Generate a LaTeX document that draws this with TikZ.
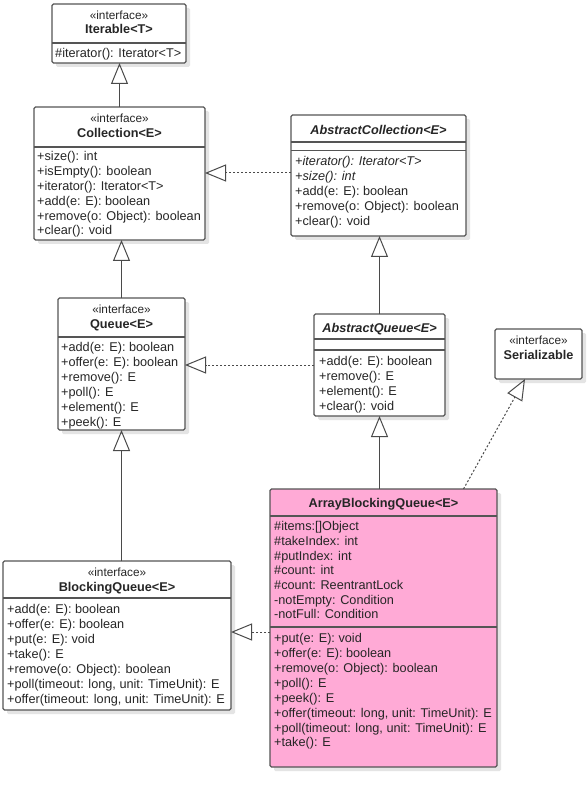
\documentclass[tikz,border=0pt]{standalone}
\usepackage{fontspec}
\setmainfont{Liberation Sans}
\usetikzlibrary{arrows.meta,shadows}
\definecolor{linec}{HTML}{4A4A4A}
\definecolor{boxc}{HTML}{555555}
\definecolor{pinkc}{HTML}{FFAAD6}
\definecolor{txtc}{HTML}{262626}
\definecolor{shadc}{HTML}{E4E4E4}
\begin{document}
\begin{tikzpicture}[x=1pt,y=-1pt,
  cls/.style={draw=boxc, line width=1.1pt, fill=white, rounded corners=1.5pt,
    anchor=north west, inner sep=0pt, outer sep=0pt,
    drop shadow={shadow xshift=4pt, shadow yshift=-4pt, fill=shadc, opacity=1}},
  div/.style={draw=boxc, line width=1.1pt},
  mtxt/.style={anchor=base west, inner sep=0pt, text=txtc, font=\fontsize{12.7}{15}\selectfont},
  itxt/.style={mtxt, font=\fontsize{12.7}{15}\selectfont\itshape},
  stereo/.style={anchor=base, inner sep=0pt, text=txtc, font=\fontsize{11.8}{14}\selectfont},
  cname/.style={anchor=base, inner sep=0pt, text=txtc, font=\fontsize{12.7}{15}\selectfont\bfseries},
  aname/.style={cname, font=\fontsize{12.7}{15}\selectfont\bfseries\itshape},
  inh/.style={draw=linec, line width=1pt, -{Triangle[open, length=21pt, width=17pt]}},
  real/.style={inh, dash pattern=on 2pt off 2pt}
]
\useasboundingbox (0,0) rectangle (586,791);
\fill[white] (0,0) rectangle (586,791);

% ---------- Iterable ----------
\node[cls, minimum width=134pt, minimum height=59pt] (iter) at (52,4) {};
\draw[div] (52,43) -- (186,43);
\node[stereo] (iter-s) at (119,19.3) {«interface»};
\node[cname] (iter-n) at (119,33.6) {Iterable<T>};
\node[mtxt] (iter-m1) at (55,57.6) {\#iterator(): Iterator<T>};

% ---------- Collection ----------
\node[cls, minimum width=171pt, minimum height=133pt] (coll) at (34,107) {};
\draw[div] (34,147) -- (205,147);
\node[stereo] (coll-s) at (119.5,122.3) {«interface»};
\node[cname] (coll-n) at (119.5,137.6) {Collection<E>};
\node[mtxt] (coll-m1) at (37,160.9) {+size(): int};
\node[mtxt] (coll-m2) at (37,175.7) {+isEmpty(): boolean};
\node[mtxt] (coll-m3) at (37,190.5) {+iterator(): Iterator<T>};
\node[mtxt] (coll-m4) at (37,205.3) {+add(e: E): boolean};
\node[mtxt] (coll-m5) at (37,220.1) {+remove(o: Object): boolean};
\node[mtxt] (coll-m6) at (37,234.9) {+clear(): void};

% ---------- AbstractCollection ----------
\node[cls, minimum width=175pt, minimum height=121pt] (acoll) at (291,115) {};
\draw[div] (291,142) -- (466,142);
\draw[div] (291,150.5) -- (466,150.5);
\node[aname] (acoll-n) at (378.5,134.1) {AbstractCollection<E>};
\node[itxt] (acoll-m1) at (295,165.6) {+iterator(): Iterator<T>};
\node[itxt] (acoll-m2) at (295,180.6) {+size(): int};
\node[mtxt] (acoll-m3) at (295,195.6) {+add(e: E): boolean};
\node[mtxt] (acoll-m4) at (295,210.6) {+remove(o: Object): boolean};
\node[mtxt] (acoll-m5) at (295,225.6) {+clear(): void};

% ---------- Queue ----------
\node[cls, minimum width=127pt, minimum height=132pt] (queue) at (58,298) {};
\draw[div] (58,337) -- (185,337);
\node[stereo] (queue-s) at (121.5,313.3) {«interface»};
\node[cname] (queue-n) at (121.5,328.1) {Queue<E>};
\node[mtxt] (queue-m1) at (61,351.6) {+add(e: E): boolean};
\node[mtxt] (queue-m2) at (61,366.5) {+offer(e: E): boolean};
\node[mtxt] (queue-m3) at (61,381.4) {+remove(): E};
\node[mtxt] (queue-m4) at (61,396.3) {+poll(): E};
\node[mtxt] (queue-m5) at (61,411.2) {+element(): E};
\node[mtxt] (queue-m6) at (61,426.1) {+peek(): E};

% ---------- AbstractQueue ----------
\node[cls, minimum width=131pt, minimum height=102pt] (aqueue) at (314,314) {};
\draw[div] (314,339) -- (445,339);
\draw[div] (314,350) -- (445,350);
\node[aname] (aqueue-n) at (379.5,332.6) {AbstractQueue<E>};
\node[mtxt] (aqueue-m1) at (319,365.6) {+add(e: E): boolean};
\node[mtxt] (aqueue-m2) at (319,380.5) {+remove(): E};
\node[mtxt] (aqueue-m3) at (319,395.4) {+element(): E};
\node[mtxt] (aqueue-m4) at (319,410.3) {+clear(): void};

% ---------- Serializable ----------
\node[cls, minimum width=87pt, minimum height=50pt] (ser) at (495,329) {};
\node[stereo] (ser-s) at (538.5,344.3) {«interface»};
\node[cname] (ser-n) at (538.5,359.6) {Serializable};

% ---------- BlockingQueue ----------
\node[cls, minimum width=228pt, minimum height=149pt] (bq) at (3,561) {};
\draw[div] (3,598) -- (231,598);
\node[stereo] (bq-s) at (117,576.3) {«interface»};
\node[cname] (bq-n) at (117,591.6) {BlockingQueue<E>};
\node[mtxt] (bq-m1) at (7,613.6) {+add(e: E): boolean};
\node[mtxt] (bq-m2) at (7,628.6) {+offer(e: E): boolean};
\node[mtxt] (bq-m3) at (7,643.6) {+put(e: E): void};
\node[mtxt] (bq-m4) at (7,658.6) {+take(): E};
\node[mtxt] (bq-m5) at (7,673.6) {+remove(o: Object): boolean};
\node[mtxt] (bq-m6) at (7,688.6) {+poll(timeout: long, unit: TimeUnit): E};
\node[mtxt] (bq-m7) at (7,703.6) {+offer(timeout: long, unit: TimeUnit): E};

% ---------- ArrayBlockingQueue ----------
\node[cls, fill=pinkc, minimum width=227pt, minimum height=278pt] (abq) at (270,489) {};
\draw[div] (270,516) -- (497,516);
\draw[div] (270,627) -- (497,627);
\node[cname] (abq-n) at (383.5,507.6) {ArrayBlockingQueue<E>};
\node[mtxt] (abq-a1) at (274,530.6) {\#items:[]Object};
\node[mtxt] (abq-a2) at (274,545.3) {\#takeIndex: int};
\node[mtxt] (abq-a3) at (274,560.0) {\#putIndex: int};
\node[mtxt] (abq-a4) at (274,574.7) {\#count: int};
\node[mtxt] (abq-a5) at (274,589.4) {\#count: ReentrantLock};
\node[mtxt] (abq-a6) at (274,604.1) {-notEmpty: Condition};
\node[mtxt] (abq-a7) at (274,618.8) {-notFull: Condition};
\node[mtxt] (abq-m1) at (274,642.6) {+put(e: E): void};
\node[mtxt] (abq-m2) at (274,657.5) {+offer(e: E): boolean};
\node[mtxt] (abq-m3) at (274,672.4) {+remove(o: Object): boolean};
\node[mtxt] (abq-m4) at (274,687.3) {+poll(): E};
\node[mtxt] (abq-m5) at (274,702.2) {+peek(): E};
\node[mtxt] (abq-m6) at (274,717.1) {+offer(timeout: long, unit: TimeUnit): E};
\node[mtxt] (abq-m7) at (274,732.0) {+poll(timeout: long, unit: TimeUnit): E};
\node[mtxt] (abq-m8) at (274,746.9) {+take(): E};

% ---------- connectors ----------
\draw[inh] (coll.north) -- (coll.north |- iter.south);
\draw[real] ([yshift=2.5pt]acoll.west) -- ([yshift=2.5pt]acoll.west -| coll.east);
\draw[inh] (queue.north) -- (queue.north |- coll.south);
\draw[inh] (aqueue.north) -- (aqueue.north |- acoll.south);
\draw[real] (aqueue.west) -- (aqueue.west -| queue.east);
\draw[inh] (bq.north -| queue.south) -- (queue.south);
\draw[inh] (abq.north -| aqueue.south) -- (aqueue.south);
\draw[real] ([xshift=80pt]abq.north) -- ([xshift=-13.5pt]ser.south);
\draw[real] ([yshift=-4pt]abq.west) -- ([yshift=-4pt]abq.west -| bq.east);
\end{tikzpicture}
\end{document}
